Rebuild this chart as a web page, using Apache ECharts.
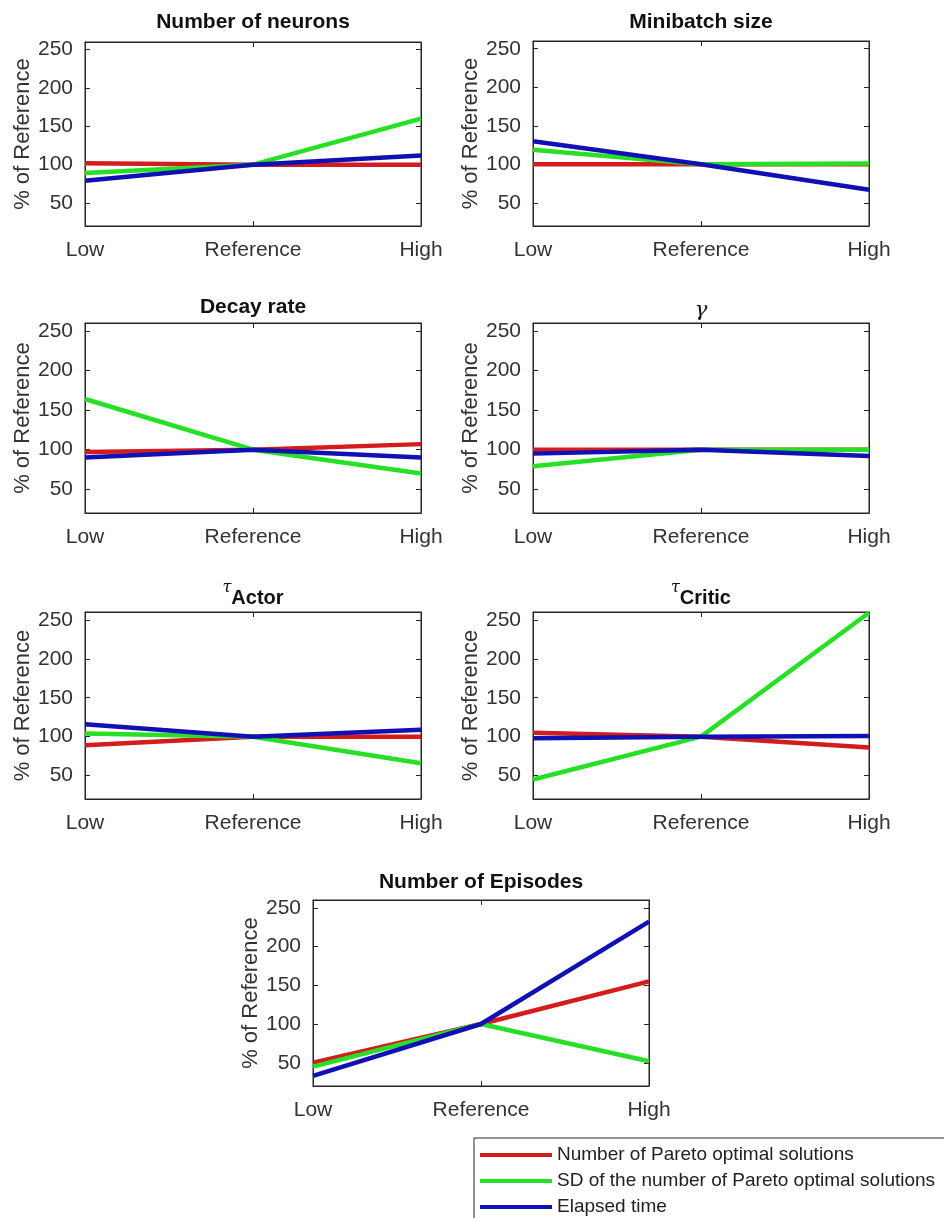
<!DOCTYPE html>
<html>
<head>
<meta charset="utf-8">
<script src="https://cdn.jsdelivr.net/npm/echarts@6/dist/echarts.min.js"></script>
<style>
  html, body { margin: 0; padding: 0; background: #fff; }
  #chart { width: 944px; height: 1218px; }
</style>
</head>
<body>
<div id="chart"></div>
<script>
const categories = ['Low', 'Reference', 'High'];
const yTicks = [50, 100, 150, 200, 250];
const seriesNames = [
  'Number of Pareto optimal solutions',
  'SD of the number of Pareto optimal solutions',
  'Elapsed time'
];
const seriesColors = ['#d41c1c', '#25e025', '#1010b4'];

// one row per panel (Low, Reference, High), % of reference
const paretoCount = [
  [102, 100, 100],
  [100, 100, 100],
  [97, 100, 107],
  [100, 100, 100],
  [89, 100, 100],
  [105, 100, 86],
  [50, 100, 155]
];
const paretoSD = [
  [89, 100, 160],
  [119, 100, 101],
  [164, 100, 70],
  [79, 100, 100],
  [104, 100, 66],
  [45, 100, 259],
  [45, 100, 52]
];
const elapsedTime = [
  [79, 100, 112],
  [130, 100, 67],
  [90, 100, 90],
  [95, 100, 92],
  [116, 100, 109],
  [98, 100, 101],
  [33, 100, 232]
];

// panel titles (rich text) and placement
const panels = [
  { title: '{b|Number of neurons}', left: 85, top: 42, height: 184, titleTop: 10 },
  { title: '{b|Minibatch size}', left: 533, top: 41, height: 185, titleTop: 10 },
  { title: '{b|Decay rate}', left: 85, top: 323, height: 190, titleTop: 295 },
  { title: '{g|γ}', left: 533, top: 323, height: 190, titleTop: 299 },
  { title: '{t|τ}{s|Actor}', left: 85, top: 612, height: 187, titleTop: 580 },
  { title: '{t|τ}{s|Critic}', left: 533, top: 612, height: 187, titleTop: 580 },
  { title: '{b|Number of Episodes}', left: 313, top: 900, height: 186, titleTop: 870 }
];
const panelWidth = 336;

const chart = echarts.init(document.getElementById('chart'), null, { renderer: 'canvas' });

const axisColor = '#262626';
const labelColor = '#333';

const titles = [];
const grids = [];
const xAxes = [];
const yAxes = [];
const series = [];

panels.forEach(function (p, i) {
  grids.push({
    left: p.left, top: p.top, width: panelWidth, height: p.height,
    show: true, borderColor: axisColor, borderWidth: 1, backgroundColor: '#fff'
  });

  titles.push({
    text: p.title,
    left: p.left + panelWidth / 2,
    top: p.titleTop,
    textAlign: 'center',
    padding: 0,
    textStyle: {
      rich: {
        b: { fontSize: 21, fontWeight: 'bold', color: '#111', lineHeight: 24 },
        g: { fontSize: 21, fontWeight: 'normal', fontStyle: 'italic', fontFamily: 'DejaVu Serif', color: '#111', lineHeight: 24 },
        t: { fontSize: 16, fontWeight: 'normal', fontStyle: 'italic', fontFamily: 'DejaVu Serif', color: '#111', lineHeight: 17, verticalAlign: 'top' },
        s: { fontSize: 20, fontWeight: 'bold', color: '#111', lineHeight: 28, verticalAlign: 'bottom' }
      }
    }
  });

  // bottom axis with labels
  xAxes.push({
    type: 'category', gridIndex: i, data: categories, boundaryGap: false,
    axisLine: { lineStyle: { color: axisColor } },
    axisTick: { inside: true, length: 5, lineStyle: { color: axisColor } },
    axisLabel: { fontSize: 21, color: labelColor, margin: 14 }
  });
  // mirrored top axis (box ticks)
  xAxes.push({
    type: 'category', gridIndex: i, data: categories, boundaryGap: false, position: 'top',
    axisLine: { lineStyle: { color: axisColor } },
    axisTick: { inside: true, length: 5, lineStyle: { color: axisColor } },
    axisLabel: { show: false }
  });

  yAxes.push({
    type: 'value', gridIndex: i, min: 20, max: 260,
    name: '% of Reference', nameLocation: 'middle', nameGap: 50,
    nameTextStyle: { fontSize: 22, color: labelColor },
    axisLine: { show: true, lineStyle: { color: axisColor } },
    axisTick: { show: true, inside: true, length: 5, customValues: yTicks, lineStyle: { color: axisColor } },
    axisLabel: { fontSize: 21, color: labelColor, margin: 12, customValues: yTicks },
    splitLine: { show: false }
  });
  yAxes.push({
    type: 'value', gridIndex: i, min: 20, max: 260, position: 'right',
    axisLine: { show: true, lineStyle: { color: axisColor } },
    axisTick: { show: true, inside: true, length: 5, customValues: yTicks, lineStyle: { color: axisColor } },
    axisLabel: { show: false, customValues: yTicks },
    splitLine: { show: false }
  });

  [paretoCount, paretoSD, elapsedTime].forEach(function (values, k) {
    series.push({
      name: seriesNames[k],
      type: 'line',
      xAxisIndex: i * 2,
      yAxisIndex: i * 2,
      data: values[i],
      symbol: 'none',
      silent: true,
      animation: false,
      lineStyle: { width: 4.5, color: seriesColors[k] },
      itemStyle: { color: seriesColors[k] }
    });
  });
});

const option = {
  animation: false,
  textStyle: { fontFamily: '"Liberation Sans", Arial, Helvetica, sans-serif' },
  title: titles,
  grid: grids,
  xAxis: xAxes,
  yAxis: yAxes,
  legend: {
    data: seriesNames,
    orient: 'vertical',
    left: 474,
    top: 1138,
    width: 480,
    height: 120,
    padding: [4, 12, 12, 6],
    itemGap: 0,
    icon: 'rect',
    itemWidth: 72,
    itemHeight: 4,
    borderColor: axisColor,
    borderWidth: 1,
    backgroundColor: '#fff',
    selectedMode: false,
    textStyle: { fontSize: 19, color: '#222', lineHeight: 26 }
  },
  series: series
};

chart.setOption(option);
</script>
</body>
</html>
